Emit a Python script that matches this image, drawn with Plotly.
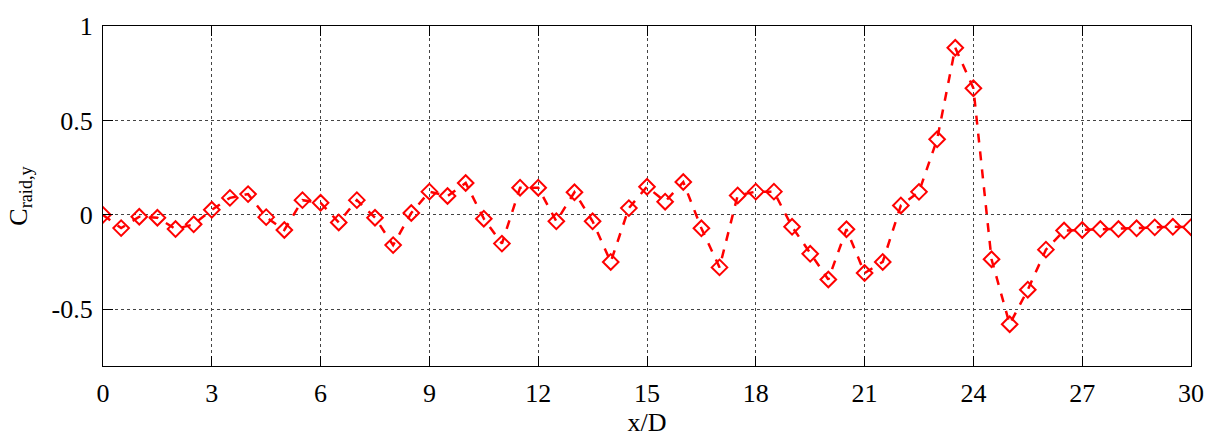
import plotly.graph_objects as go

x_d = [i * 0.5 for i in range(61)]
c_raid_y = [
    0.0, -0.07, -0.01, -0.015, -0.075, -0.05, 0.027, 0.09, 0.11, -0.012,
    -0.08, 0.078, 0.064, -0.04, 0.078, -0.015, -0.16, 0.01, 0.123, 0.10,
    0.169, -0.02, -0.152, 0.144, 0.144, -0.034, 0.12, -0.034, -0.249, 0.036,
    0.149, 0.07, 0.174, -0.071, -0.278, 0.103, 0.123, 0.123, -0.063, -0.206,
    -0.342, -0.076, -0.308, -0.249, 0.05, 0.122, 0.40, 0.885, 0.67, -0.235,
    -0.579, -0.396, -0.184, -0.083, -0.08, -0.075, -0.075, -0.071, -0.066, -0.063,
    -0.065,
]
x_ticks = [0, 3, 6, 9, 12, 15, 18, 21, 24, 27, 30]
y_ticks = [-0.5, 0, 0.5, 1]
y_tick_text = ["-0.5", "0", "0.5", "1"]

font = dict(family="Liberation Serif, Times New Roman, serif", size=26, color="black")

fig = go.Figure()
fig.add_trace(go.Scatter(
    x=x_d, y=c_raid_y, mode="lines+markers",
    line=dict(color="#ff0000", width=2.5, dash="dash"),
    marker=dict(symbol="diamond-open", size=12, color="#ff0000", line=dict(width=2, color="#ff0000")),
    showlegend=False,
))

axis_common = dict(
    showline=True, linecolor="black", linewidth=1.2, mirror="ticks",
    ticks="inside", ticklen=10, tickcolor="black", tickwidth=1,
    showgrid=True, gridcolor="#444444", griddash="dot", gridwidth=1,
    zeroline=False, tickfont=font,
)

fig.update_xaxes(range=[0, 30], tickvals=x_ticks, ticklabelstandoff=4,
                 title=dict(text="x/D", font=font, standoff=0), **axis_common)
fig.update_yaxes(range=[-0.8, 1], tickvals=y_ticks, ticktext=y_tick_text, ticklabelstandoff=4,
                 title=dict(text="C<sub>raid,y</sub>", font=font, standoff=16), **axis_common)

fig.update_layout(
    width=1216, height=438,
    margin=dict(l=103, r=23, t=20, b=64),
    paper_bgcolor="white", plot_bgcolor="white",
    font=font,
)

fig.write_html("out.html", config={"displayModeBar": False},
               post_script="document.body.style.margin='0';")
